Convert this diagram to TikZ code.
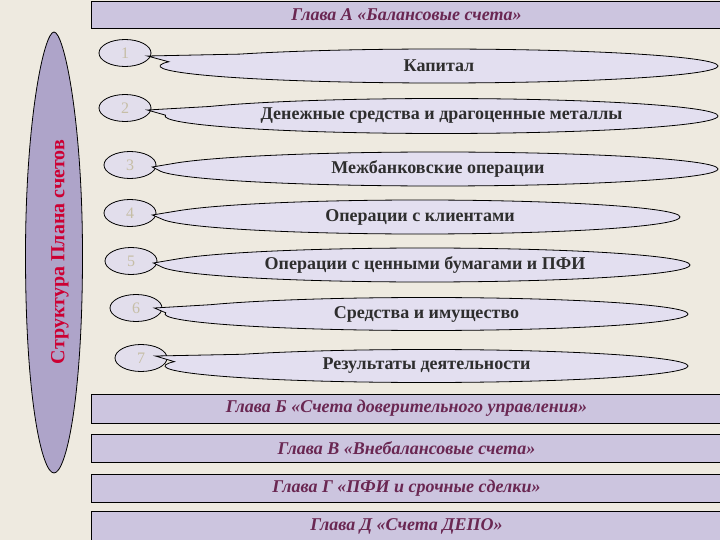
\documentclass[tikz,border=0pt]{standalone}
\usepackage{fontspec}
\setmainfont{Liberation Serif}
\usetikzlibrary{shapes.geometric,shapes.callouts,calc}
\definecolor{bg}{HTML}{EEEAE0}
\definecolor{barfill}{HTML}{CCC5DF}
\definecolor{spfill}{HTML}{AEA4C9}
\definecolor{bigfill}{HTML}{E3DFF0}
\definecolor{smallfill}{HTML}{E2DEEC}
\definecolor{numcol}{HTML}{C6BEA6}
\definecolor{titlecol}{HTML}{6A2752}
\definecolor{redtext}{HTML}{CC0033}
\definecolor{darktext}{HTML}{2E2E2E}
\tikzset{
  barbox/.style={draw=black, line width=0.9pt, fill=barfill, rectangle, inner sep=0,
    text=titlecol, font=\fontsize{18}{20}\selectfont\bfseries\itshape},
  smallell/.style={draw=black, line width=0.8pt, fill=smallfill, ellipse, inner sep=0,
    minimum width=52, minimum height=27, text=numcol, font=\fontsize{16}{18}\selectfont},
  bigell/.style={draw=black, line width=0.8pt, fill=bigfill, ellipse callout, inner sep=0,
    callout pointer arc=30, text=darktext, font=\fontsize{18}{20}\selectfont\bfseries}
}
\begin{document}
\begin{tikzpicture}[x=1pt,y=-1pt]
\fill[bg] (0,0) rectangle (720,540);
\useasboundingbox (0,0) rectangle (720,540);

% chapter bars
\node[barbox, minimum width=631, minimum height=27.5] (ga) at (406.5,14.75) {\raisebox{-1.5pt}{Глава А «Балансовые счета»}};
\node[barbox, minimum width=631, minimum height=29] (gb) at (406.5,408.5) {Глава Б «Счета доверительного управления»};
\node[barbox, minimum width=631, minimum height=28] (gv) at (406.5,448) {Глава В «Внебалансовые счета»};
\node[barbox, minimum width=631, minimum height=28] (gg) at (406.5,488) {Глава Г «ПФИ и срочные сделки»};
\node[barbox, minimum width=631, minimum height=31] (gd) at (406.5,526.5) {Глава Д «Счета ДЕПО»};

% left spindle
\draw[line width=0.8pt, fill=spfill]
  (54,32) .. controls (44,32) and (25.5,120) .. (25.5,255)
  .. controls (25.5,400) and (42,473) .. (54,473)
  .. controls (66,473) and (82.5,400) .. (82.5,255)
  .. controls (82.5,120) and (64,32) .. cycle;
\node[rotate=90, text=redtext, font=\fontsize{20}{22}\selectfont\bfseries] (spt) at (60,252) {Структура Плана счетов};

% small number ellipses
\node[smallell] (s1) at (125,53) {1};
\node[smallell] (s2) at (125,108) {2};
\node[smallell] (s3) at (130,165) {3};
\node[smallell] (s4) at (130,213) {4};
\node[smallell] (s5) at (131,261) {5};
\node[smallell] (s6) at (136,308) {6};
\node[smallell] (s7) at (141,358) {7};

% callout ellipses
\node[bigell, minimum width=558, minimum height=34,
  callout absolute pointer={($(s1.east)+(-4,3)$)}] (b1) at (439,66) {Капитал};
\node[bigell, minimum width=553, minimum height=35,
  callout absolute pointer={($(s2.east)+(-4,2)$)}] (b2) at (441.5,116) {Денежные средства и драгоценные металлы};
\node[bigell, minimum width=560, minimum height=34,
  callout absolute pointer={($(s3.east)+(-4,2)$)}] (b3) at (438,169) {Межбанковские операции};
\node[bigell, minimum width=520, minimum height=34,
  callout absolute pointer={($(s4.east)+(-4,2)$)}] (b4) at (420,217) {Операции с клиентами};
\node[bigell, minimum width=530, minimum height=34,
  callout absolute pointer={($(s5.east)+(-4,2)$)}] (b5) at (425,265) {Операции с ценными бумагами и ПФИ};
\node[bigell, minimum width=523, minimum height=33,
  callout absolute pointer={($(s6.east)+(-8,0)$)}] (b6) at (426.5,314) {Средства и имущество};
\node[bigell, minimum width=523, minimum height=33,
  callout absolute pointer={($(s7.east)+(-12,-2)$)}] (b7) at (426.5,366) {Результаты деятельности};
\end{tikzpicture}
\end{document}
